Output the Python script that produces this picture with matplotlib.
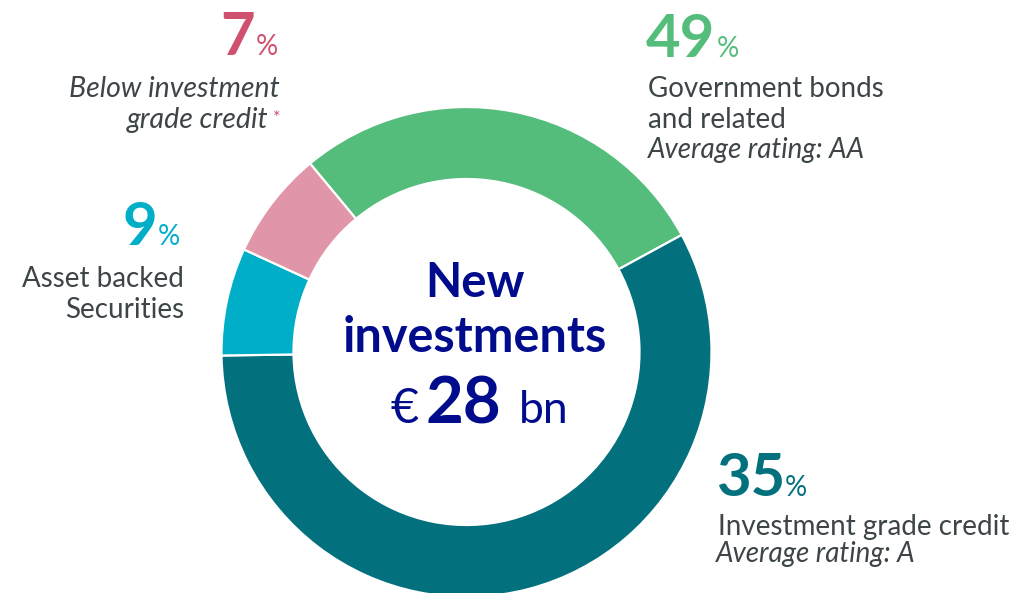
import matplotlib
matplotlib.use("Agg")
import matplotlib.pyplot as plt

plt.rcParams['font.family'] = ['Lato', 'DejaVu Sans']

# data
categories = ["Government bonds", "Investment grade credit",
              "Asset backed Securities", "Below investment grade credit"]
label_pct = [49, 35, 9, 7]
# wedge shares as drawn in the picture (do not match the printed labels)
wedge_share = [28.1, 57.7, 7.1, 7.1]
colors = ["#55BD7B", "#03717D", "#00AEC7", "#E195A8"]
num_colors = ["#55BD7B", "#03717D", "#00AEC7", "#D0506F"]
center_title = ["New", "investments"]
center_amount = "28"

W, H = 1020, 593
fig = plt.figure(figsize=(W / 100, H / 100), dpi=100)
ax = fig.add_axes([0, 0, 1, 1])

def py(y):
    # pixel row -> data y
    return H - y

cx, cy, R, r = 466.5, 352, 245, 173
ax.pie(wedge_share, colors=colors, center=(cx, py(cy)), radius=R,
       startangle=129.7, counterclock=False,
       wedgeprops=dict(width=R - r, edgecolor="white", linewidth=1.6))

ax.set_xlim(0, W)
ax.set_ylim(0, H)
ax.set_aspect("equal")
ax.set_axis_off()

gray = "#3D4548"
navy = "#000C8C"
big = dict(fontsize=43, fontweight="bold", va="baseline")
pct = dict(fontsize=20, va="baseline")
lab = dict(fontsize=20, color=gray, va="baseline")

# Government bonds (left aligned)
ax.text(646, py(57), str(label_pct[0]), color=num_colors[0], ha="left", **big)
ax.text(717, py(57), "%", color=num_colors[0], ha="left", **pct)
ax.text(648, py(97), "Government bonds", ha="left", **lab)
ax.text(648, py(128), "and related", ha="left", **lab)
ax.text(648, py(158), "Average rating: AA", ha="left", style="italic", **lab)

# Investment grade credit
ax.text(716, py(496), str(label_pct[1]), color=num_colors[1], ha="left", **big)
ax.text(785, py(496), "%", color=num_colors[1], ha="left", **pct)
ax.text(718, py(535), "Investment grade credit", ha="left", **lab)
ax.text(716, py(562), "Average rating: A", ha="left", style="italic", **lab)

# Asset backed securities (right aligned)
ax.text(157, py(245), str(label_pct[2]), color=num_colors[2], ha="right", **big)
ax.text(158, py(245), "%", color=num_colors[2], ha="left", **pct)
ax.text(184, py(287), "Asset backed", ha="right", **lab)
ax.text(184, py(318), "Securities", ha="right", **lab)

# Below investment grade credit
ax.text(255, py(55), str(label_pct[3]), color=num_colors[3], ha="right", **big)
ax.text(256, py(55), "%", color=num_colors[3], ha="left", **pct)
ax.text(280, py(97), "Below investment", ha="right", style="italic",
        fontsize=20.5, color=gray, va="baseline")
ax.text(268, py(128), "grade credit", ha="right", style="italic",
        fontsize=20.5, color=gray, va="baseline")
ax.text(273, py(123), "*", color=num_colors[3], ha="left", fontsize=13, va="baseline")

# center text
ax.text(475, py(297), center_title[0], color=navy, ha="center", va="baseline",
        fontsize=34, fontweight="bold")
ax.text(475, py(352), center_title[1], color=navy, ha="center", va="baseline",
        fontsize=35, fontweight="bold")
ax.text(419, py(423), "€", color=navy, ha="right", va="baseline", fontsize=35)
ax.text(426, py(423), center_amount, color=navy, ha="left", va="baseline",
        fontsize=47, fontweight="bold")
ax.text(519, py(423), "bn", color=navy, ha="left", va="baseline", fontsize=32)

fig.savefig("out.png", dpi=100)
